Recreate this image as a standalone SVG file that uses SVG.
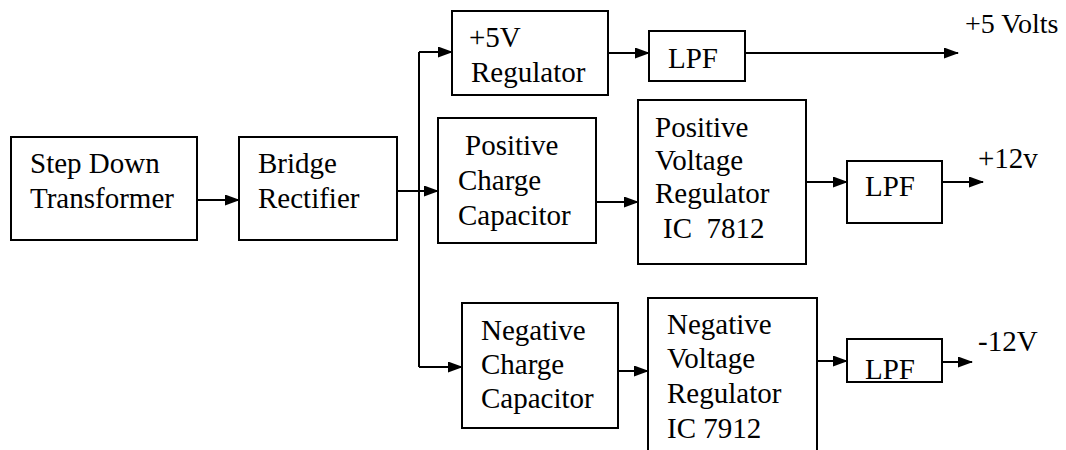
<svg xmlns="http://www.w3.org/2000/svg" width="1066" height="450" viewBox="0 0 1066 450">
<style>
.box{fill:#fff;stroke:#000;stroke-width:2}
.ln{fill:none;stroke:#000;stroke-width:2}
.ar{fill:none;stroke:#000;stroke-width:2;marker-end:url(#ah)}
</style>
<defs>
<marker id="ah" markerUnits="userSpaceOnUse" markerWidth="15" markerHeight="11" refX="14" refY="5.5" orient="auto">
<path d="M0,0 L15,5.5 L0,11 z" fill="#000"/>
</marker>
</defs>
<rect width="1066" height="450" fill="#fff"/>
<g id="connectors">
<path class="ar" d="M197,200 H239"/>
<path class="ln" d="M397,191 H419"/>
<path class="ln" d="M419,52 V367"/>
<path class="ar" d="M419,52 H452"/>
<path class="ar" d="M419,191 H438"/>
<path class="ar" d="M419,367 H462"/>
<path class="ar" d="M608,53 H649"/>
<path class="ar" d="M745,53 H958"/>
<path class="ar" d="M596,202 H638"/>
<path class="ar" d="M806,182 H847"/>
<path class="ar" d="M942,182 H983"/>
<path class="ar" d="M618,371 H648"/>
<path class="ar" d="M817,361 H847"/>
<path class="ar" d="M942,362 H972"/>
</g>
<g font-family="Liberation Serif, DejaVu Serif, serif" font-size="29" fill="#000">
<g id="step-down">
<rect class="box" x="11" y="137" width="186" height="103"/>
<text x="30" y="173">Step Down</text>
<text x="30" y="208">Transformer</text>
</g>
<g id="bridge">
<rect class="box" x="239" y="137" width="158" height="103"/>
<text x="258" y="173">Bridge</text>
<text x="258" y="208">Rectifier</text>
</g>
<g id="reg5">
<rect class="box" x="452" y="11" width="156" height="84"/>
<text x="469" y="47">+5V</text>
<text x="471" y="82">Regulator</text>
</g>
<g id="lpf1">
<rect class="box" x="649" y="31" width="96" height="50"/>
<text x="668" y="68">LPF</text>
</g>
<g id="out5">
<text x="965" y="33" font-size="28">+5 Volts</text>
</g>
<g id="pos-cap">
<rect class="box" x="438" y="118" width="158" height="125"/>
<text x="465" y="155">Positive</text>
<text x="458" y="190">Charge</text>
<text x="458" y="225">Capacitor</text>
</g>
<g id="pos-reg">
<rect class="box" x="638" y="100" width="168" height="164"/>
<text x="655" y="137">Positive</text>
<text x="655" y="170">Voltage</text>
<text x="655" y="203">Regulator</text>
<text x="663" y="238" xml:space="preserve">IC  7812</text>
</g>
<g id="lpf2">
<rect class="box" x="847" y="161" width="95" height="62"/>
<text x="865" y="196">LPF</text>
</g>
<g id="out12">
<text x="978" y="168">+12v</text>
</g>
<g id="neg-cap">
<rect class="box" x="462" y="303" width="156" height="125"/>
<text x="481" y="340">Negative</text>
<text x="481" y="374">Charge</text>
<text x="481" y="408">Capacitor</text>
</g>
<g id="neg-reg">
<rect class="box" x="648" y="298" width="169" height="170"/>
<text x="667" y="334">Negative</text>
<text x="667" y="368">Voltage</text>
<text x="667" y="403">Regulator</text>
<text x="667" y="438">IC 7912</text>
</g>
<g id="lpf3">
<rect class="box" x="847" y="339" width="95" height="43"/>
<text x="865" y="379">LPF</text>
</g>
<g id="outm12">
<text x="978" y="351">-12V</text>
</g>
</g>
</svg>
